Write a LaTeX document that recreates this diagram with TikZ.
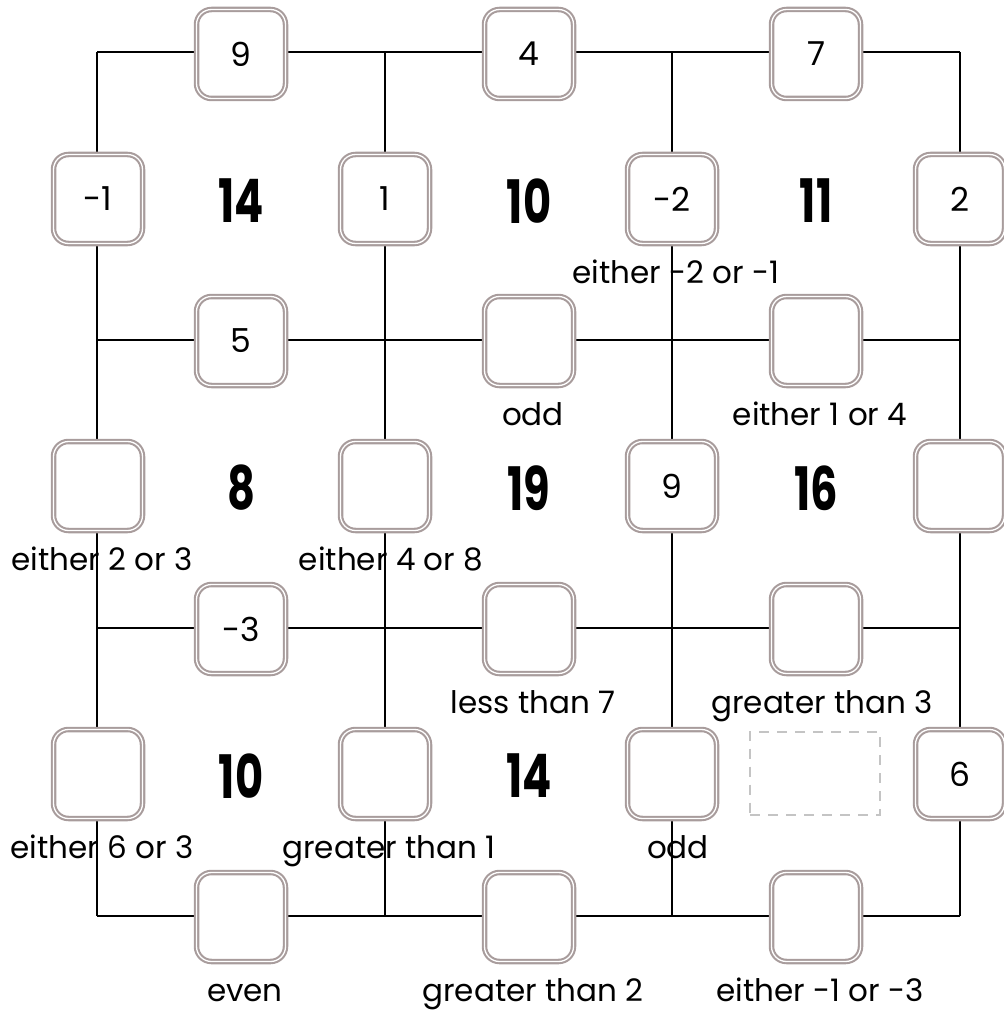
\documentclass[tikz,border=0pt]{standalone}
\usepackage{fontspec}
\usepackage{graphicx}
\setmainfont{Poppins}
\usetikzlibrary{positioning}
\definecolor{boxgray}{HTML}{A89C9C}
\definecolor{dashgray}{HTML}{C4C4C4}
\tikzset{
  gridline/.style={line width=2pt, black},
  cbox/.style={rectangle, rounded corners=15pt, draw=boxgray, double=white,
               line width=2.1pt, double distance=1.3pt, fill=white,
               minimum width=89pt, minimum height=89pt, inner sep=0pt,
               font=\fontsize{33}{35}\selectfont},
  sumlbl/.style={font=\fontsize{60}{62}\selectfont\bfseries},
  hint/.style={font=\fontsize{31}{33}\selectfont, inner sep=0pt,
               text height=23pt, text depth=7pt, xshift=4pt},
  emptycell/.style={rectangle, draw=dashgray, line width=2pt,
                    dash pattern=on 10pt off 8pt,
                    minimum width=130pt, minimum height=83pt}
}
\newcommand{\sumtxt}[1]{\scalebox{0.72}[1]{#1}}

\begin{document}
\begin{tikzpicture}[x=1pt, y=-1pt]
\useasboundingbox (0,0) rectangle (1003,1011);
% corners of the grid
\coordinate (c00) at (97,52);  \coordinate (c03) at (960,52);
\coordinate (c10) at (97,340); \coordinate (c13) at (960,340);
\coordinate (c20) at (97,628); \coordinate (c23) at (960,628);
\coordinate (c30) at (97,916); \coordinate (c33) at (960,916);
\coordinate (c01) at (385,52); \coordinate (c31) at (385,916);
\coordinate (c02) at (672,52); \coordinate (c32) at (672,916);
\draw[gridline] (c00) -- (c03);
\draw[gridline] (c10) -- (c13);
\draw[gridline] (c20) -- (c23);
\draw[gridline] (c30) -- (c33);
\draw[gridline] (c00) -- (c30);
\draw[gridline] (c01) -- (c31);
\draw[gridline] (c02) -- (c32);
\draw[gridline] (c03) -- (c33);
% boxes on the horizontal edges
\node[cbox] (h0a) at (241,54) {9};
\node[cbox] (h0b) at (529,54) {4};
\node[cbox] (h0c) at (816,54) {7};
\node[cbox] (h1a) at (241,341) {5};
\node[cbox] (h1b) at (529,341) {};
\node[cbox] (h1c) at (816,341) {};
\node[cbox] (h2a) at (241,629) {-3};
\node[cbox] (h2b) at (529,629) {};
\node[cbox] (h2c) at (816,629) {};
\node[cbox] (h3a) at (241,917) {};
\node[cbox] (h3b) at (529,917) {};
\node[cbox] (h3c) at (816,917) {};
% boxes on the vertical edges
\node[cbox] (v0a) at (98,199) {-1};
\node[cbox] (v1a) at (385,199) {1};
\node[cbox] (v2a) at (672,199) {-2};
\node[cbox] (v3a) at (960,199) {2};
\node[cbox] (v0b) at (98,486) {};
\node[cbox] (v1b) at (385,486) {};
\node[cbox] (v2b) at (672,486) {9};
\node[cbox] (v3b) at (960,486) {};
\node[cbox] (v0c) at (98,774) {};
\node[cbox] (v1c) at (385,774) {};
\node[cbox] (v2c) at (672,774) {};
\node[cbox] (v3c) at (960,774) {6};
% cell sums
\node[sumlbl] (s11) at (241,201) {\sumtxt{14}};
\node[sumlbl] (s12) at (529,201) {\sumtxt{10}};
\node[sumlbl] (s13) at (816,201) {\sumtxt{11}};
\node[sumlbl] (s21) at (241,488) {\sumtxt{8}};
\node[sumlbl] (s22) at (529,488) {\sumtxt{19}};
\node[sumlbl] (s23) at (816,488) {\sumtxt{16}};
\node[sumlbl] (s31) at (241,776) {\sumtxt{10}};
\node[sumlbl] (s32) at (529,776) {\sumtxt{14}};
\node[emptycell] (s33) at (815,773) {};
% hints
\node[hint, below=16pt of v2a] (t1) {either -2 or -1};
\node[hint, below=16pt of h1b] (t2) {odd};
\node[hint, below=16pt of h1c] (t3) {either 1 or 4};
\node[hint, below=16pt of v0b] (t4) {either 2 or 3};
\node[hint, below=16pt of v1b, xshift=2pt] (t5) {either 4 or 8};
\node[hint, below=16pt of h2b] (t6) {less than 7};
\node[hint, below=16pt of h2c, xshift=2pt] (t7) {greater than 3};
\node[hint, below=16pt of v0c] (t8) {either 6 or 3};
\node[hint, below=16pt of v1c] (t9) {greater than 1};
\node[hint, below=16pt of v2c, xshift=2pt] (t10) {odd};
\node[hint, below=16pt of h3a] (t11) {even};
\node[hint, below=16pt of h3b] (t12) {greater than 2};
\node[hint, below=16pt of h3c] (t13) {either -1 or -3};
\end{tikzpicture}
\end{document}
